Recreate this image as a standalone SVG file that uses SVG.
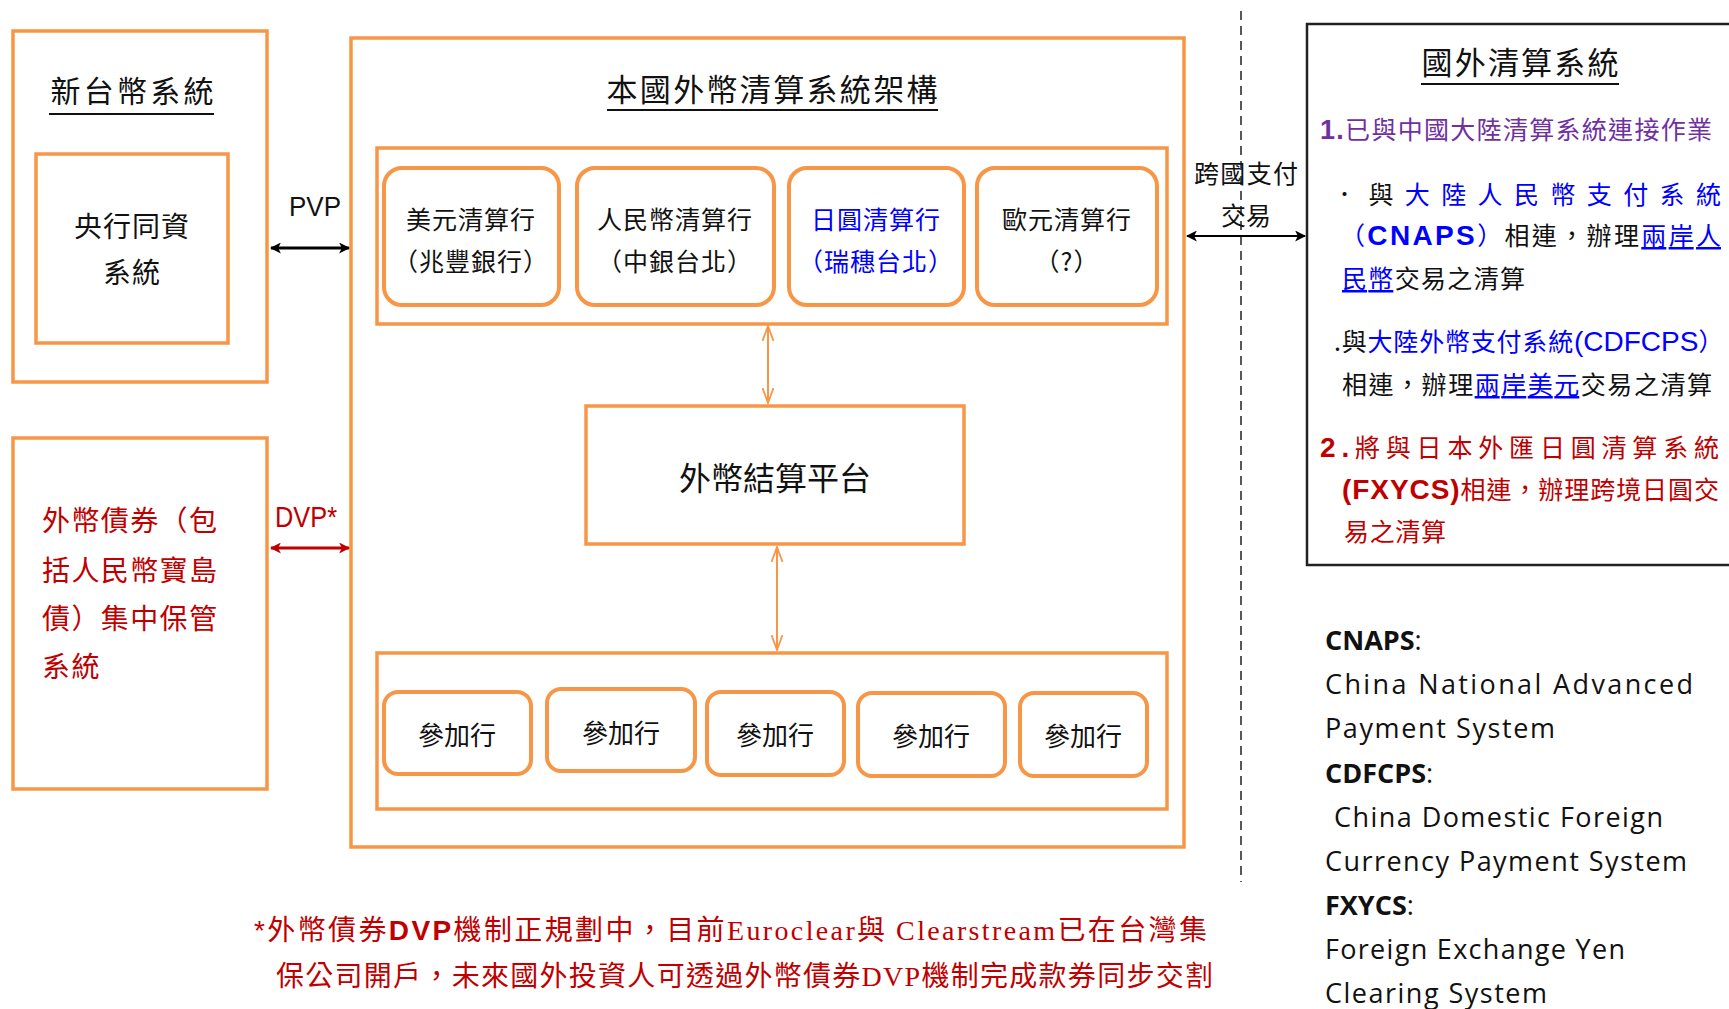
<svg xmlns="http://www.w3.org/2000/svg" width="1729" height="1009" viewBox="0 0 1729 1009">
<style>
.ob{fill:#fff;stroke:#F79646;stroke-width:3.5}
.rb{fill:#fff;stroke:#F79646;stroke-width:4}
.cj{font-family:"Noto Sans CJK TC","Noto Sans CJK SC",sans-serif}
.ar{font-family:"Liberation Sans",Arial,sans-serif}
.ab{font-family:"Liberation Sans",Arial,sans-serif;font-weight:bold}
.se{font-family:"Liberation Serif","Noto Sans CJK TC",serif}
.os{font-family:"Open Sans","Noto Sans",sans-serif;font-size:27px;fill:#111}
.blue{fill:#0000FF}
.red{fill:#C00000}
.ul{text-decoration:underline}
</style>
<defs>
<marker id="ahK" viewBox="0 0 10 10" refX="9" refY="5" markerWidth="11" markerHeight="11" markerUnits="userSpaceOnUse" orient="auto-start-reverse"><path d="M0,0 L10,5 L0,10 L2.5,5 z" fill="#000"/></marker>
<marker id="ahR" viewBox="0 0 10 10" refX="9" refY="5" markerWidth="11" markerHeight="11" markerUnits="userSpaceOnUse" orient="auto-start-reverse"><path d="M0,0 L10,5 L0,10 L2.5,5 z" fill="#C00000"/></marker>
<marker id="ahO" viewBox="0 0 16 12" refX="15" refY="6" markerWidth="16" markerHeight="12" markerUnits="userSpaceOnUse" orient="auto-start-reverse"><path d="M0,0.5 L15,6 L0,11.5" fill="none" stroke="#F79646" stroke-width="1.8"/></marker>
</defs>
<rect width="1729" height="1009" fill="#fff"/>

<g id="ntd-system">
<rect class="ob" x="13" y="31" width="254" height="351"/>
<text class="cj" x="132" y="102" font-size="30" text-anchor="middle" textLength="163" fill="#111">新台幣系統</text>
<line x1="49" y1="114" x2="214" y2="114" stroke="#111" stroke-width="2"/>
</g>
<g id="cbc-interbank">
<rect class="ob" x="36" y="154" width="192" height="189"/>
<text class="cj" font-size="28" text-anchor="middle" fill="#111" letter-spacing="1"><tspan x="132" y="237">央行同資</tspan><tspan x="132" y="283">系統</tspan></text>
</g>

<g id="bond-depository">
<rect class="ob" x="13" y="438" width="254" height="351"/>
<text class="cj red" font-size="28" letter-spacing="1.4"><tspan x="42" y="531">外幣債券（包</tspan><tspan x="42" y="581">括人民幣寶島</tspan><tspan x="42" y="629">債）集中保管</tspan><tspan x="42" y="677">系統</tspan></text>
</g>

<g id="fx-clearing-framework">
<rect class="ob" x="351" y="38" width="833" height="809"/>
<text class="cj" x="772" y="101" font-size="31" text-anchor="middle" textLength="331" fill="#111">本國外幣清算系統架構</text>
<line x1="607" y1="110" x2="938" y2="110" stroke="#111" stroke-width="2"/>
</g>

<g id="clearing-banks">
<rect class="ob" x="377" y="148" width="790" height="176"/>
</g>
<g id="usd-bank">
<rect class="rb" x="384" y="168" width="175" height="137" rx="18"/>
<text class="cj" font-size="25" text-anchor="middle" fill="#111" letter-spacing="1"><tspan x="471" y="229">美元清算行</tspan><tspan x="471" y="271">（兆豐銀行）</tspan></text>
</g>
<g id="rmb-bank">
<rect class="rb" x="577" y="168" width="197" height="137" rx="18"/>
<text class="cj" font-size="25" text-anchor="middle" fill="#111" letter-spacing="1"><tspan x="675" y="229">人民幣清算行</tspan><tspan x="675" y="271">（中銀台北）</tspan></text>
</g>
<g id="jpy-bank">
<rect class="rb" x="789" y="168" width="175" height="137" rx="18"/>
<text class="cj blue" font-size="25" text-anchor="middle" letter-spacing="1"><tspan x="876" y="229">日圓清算行</tspan><tspan x="876" y="271">（瑞穗台北）</tspan></text>
</g>
<g id="eur-bank">
<rect class="rb" x="977" y="168" width="180" height="137" rx="18"/>
<text class="cj" font-size="25" text-anchor="middle" fill="#111" letter-spacing="1"><tspan x="1067" y="229">歐元清算行</tspan><tspan x="1067" y="271">（?）</tspan></text>
</g>

<g id="settlement-platform">
<rect class="ob" x="586" y="406" width="378" height="138"/>
<text class="cj" x="775" y="490" font-size="32" text-anchor="middle" fill="#111">外幣結算平台</text>
</g>

<g id="participants">
<rect class="ob" x="377" y="653" width="790" height="156"/>
</g>
<g id="participant-1"><rect class="rb" x="384" y="692" width="147" height="82" rx="14"/><text class="cj" x="457" y="745" font-size="26" text-anchor="middle" fill="#111">參加行</text></g>
<g id="participant-2"><rect class="rb" x="547" y="689" width="148" height="82" rx="14"/><text class="cj" x="621" y="743" font-size="26" text-anchor="middle" fill="#111">參加行</text></g>
<g id="participant-3"><rect class="rb" x="707" y="692" width="137" height="83" rx="14"/><text class="cj" x="775" y="745" font-size="26" text-anchor="middle" fill="#111">參加行</text></g>
<g id="participant-4"><rect class="rb" x="858" y="693" width="147" height="83" rx="14"/><text class="cj" x="931" y="746" font-size="26" text-anchor="middle" fill="#111">參加行</text></g>
<g id="participant-5"><rect class="rb" x="1020" y="693" width="127" height="83" rx="14"/><text class="cj" x="1083" y="746" font-size="26" text-anchor="middle" fill="#111">參加行</text></g>

<g id="foreign-clearing">
<rect x="1307" y="24" width="440" height="541" fill="#fff" stroke="#222" stroke-width="2.5"/>
<text class="cj" x="1520" y="74" font-size="31" text-anchor="middle" textLength="197" fill="#111">國外清算系統</text>
<line x1="1421" y1="84" x2="1619" y2="84" stroke="#111" stroke-width="2"/>
<text class="cj" x="1320" y="139" font-size="25" fill="#7030A0" textLength="392"><tspan class="ab" font-size="27">1.</tspan>已與中國大陸清算系統連接作業</text>
<text class="cj" x="1332" y="204" font-size="25" fill="#111" textLength="389"><tspan>．與</tspan><tspan class="blue">大陸人民幣支付系統</tspan></text>
<text class="cj" x="1340" y="245" font-size="25" fill="#111" textLength="381"><tspan class="blue">（<tspan class="ab" font-size="28">CNAPS</tspan>）</tspan>相連，辦理<tspan class="blue ul">兩岸人</tspan></text>
<text class="cj" x="1342" y="288" font-size="25" fill="#111" textLength="183"><tspan class="blue ul">民幣</tspan>交易之清算</text>
<text class="cj" x="1334" y="351" font-size="25" fill="#111" letter-spacing="0.8"><tspan>.與</tspan><tspan class="blue">大陸外幣支付系統<tspan class="ar" font-size="28" letter-spacing="0">(CDFCPS</tspan>）</tspan></text>
<text class="cj" x="1342" y="394" font-size="25" fill="#111" textLength="370"><tspan>相連，辦理</tspan><tspan class="blue ul">兩岸美元</tspan><tspan>交易之清算</tspan></text>
<text class="cj red" x="1320" y="457" font-size="25" textLength="399"><tspan class="ab" font-size="28">2.</tspan>將與日本外匯日圓清算系統</text>
<text class="cj red" x="1342" y="499" font-size="25" textLength="377"><tspan class="ab" font-size="28">(FXYCS)</tspan>相連，辦理跨境日圓交</text>
<text class="cj red" x="1344" y="541" font-size="25" textLength="102">易之清算</text>
</g>

<g id="legend">
<text class="os"><tspan x="1325" y="650" font-weight="bold">CNAPS</tspan><tspan>:</tspan></text>
<text class="os" x="1325" y="694" textLength="368">China National  Advanced</text>
<text class="os" x="1325" y="738" textLength="230">Payment System</text>
<text class="os"><tspan x="1325" y="783" font-weight="bold">CDFCPS</tspan><tspan>:</tspan></text>
<text class="os" x="1334" y="827" textLength="329">China Domestic Foreign</text>
<text class="os" x="1325" y="871" textLength="362">Currency Payment System</text>
<text class="os"><tspan x="1325" y="915" font-weight="bold">FXYCS</tspan><tspan>:</tspan></text>
<text class="os" x="1325" y="959" textLength="300">Foreign Exchange Yen</text>
<text class="os" x="1325" y="1003" textLength="222">Clearing System</text>
</g>

<g id="footnote">
<text class="cj red" x="254" y="940" font-size="28" textLength="953"><tspan class="ar">*</tspan>外幣債券<tspan class="ab">DVP</tspan>機制正規劃中，目前<tspan class="se">Euroclear</tspan>與 <tspan class="se">Clearstream</tspan>已在台灣集</text>
<text class="cj red" x="276" y="986" font-size="28" textLength="937">保公司開戶，未來國外投資人可透過外幣債券<tspan class="se">DVP</tspan>機制完成款券同步交割</text>
</g>

<g id="connectors">
<line x1="1241" y1="11" x2="1241" y2="882" stroke="#222" stroke-width="1.5" stroke-dasharray="9,6"/>
<line x1="271" y1="248" x2="349" y2="248" stroke="#000" stroke-width="3" marker-start="url(#ahK)" marker-end="url(#ahK)"/>
<text class="ar" x="289" y="216" font-size="28" textLength="52" lengthAdjust="spacingAndGlyphs" fill="#111">PVP</text>
<line x1="271" y1="548" x2="349" y2="548" stroke="#C00000" stroke-width="3" marker-start="url(#ahR)" marker-end="url(#ahR)"/>
<text class="ar red" x="275" y="527" font-size="29" textLength="62" lengthAdjust="spacingAndGlyphs">DVP*</text>
<line x1="1187" y1="236" x2="1305" y2="236" stroke="#000" stroke-width="2" marker-start="url(#ahK)" marker-end="url(#ahK)"/>
<text class="cj" font-size="25" text-anchor="middle" fill="#111"><tspan x="1246" y="183" textLength="104">跨國支付</tspan><tspan x="1246" y="225">交易</tspan></text>
<line x1="768" y1="326" x2="768" y2="403" stroke="#F79646" stroke-width="2" marker-start="url(#ahO)" marker-end="url(#ahO)"/>
<line x1="777" y1="547" x2="777" y2="650" stroke="#F79646" stroke-width="2" marker-start="url(#ahO)" marker-end="url(#ahO)"/>
</g>
</svg>
